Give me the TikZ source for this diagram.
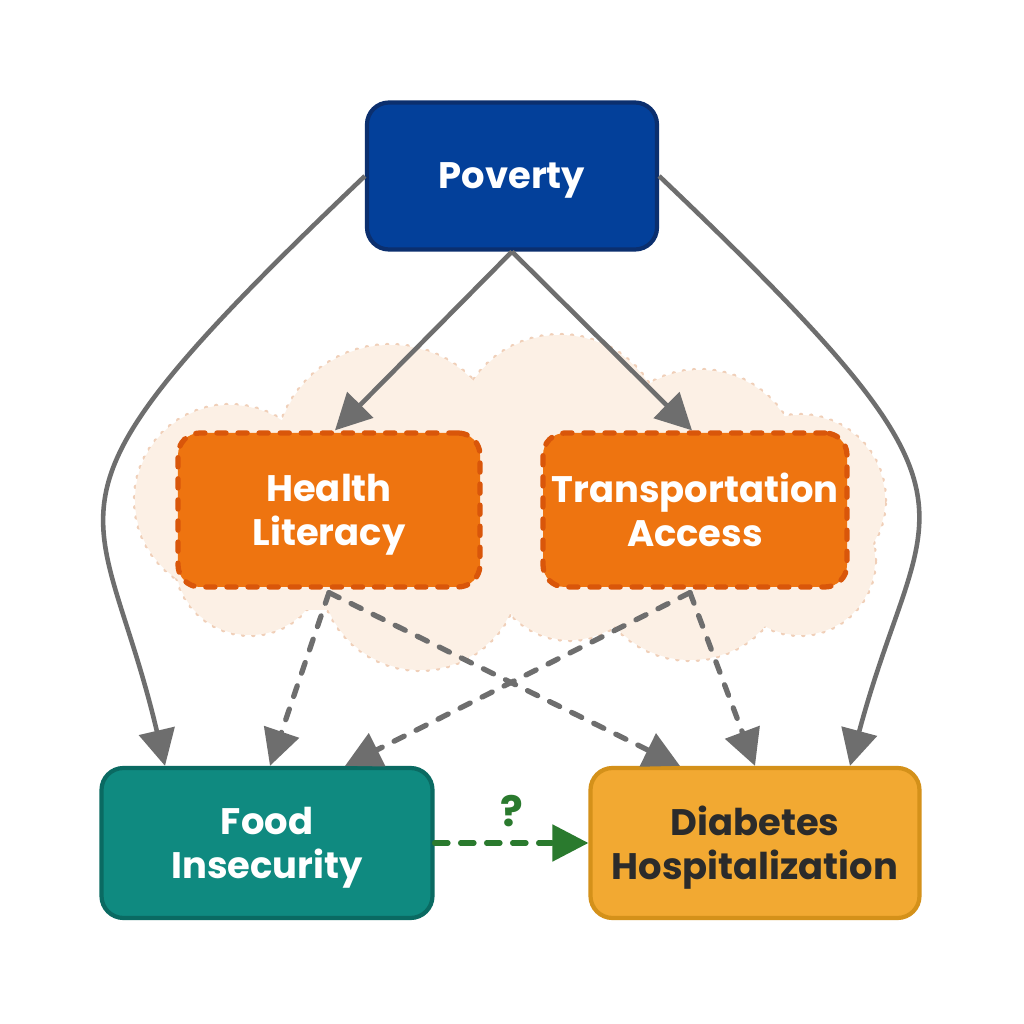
\documentclass[tikz,border=0pt]{standalone}
\usepackage{fontspec}
\setmainfont{Poppins}
\usetikzlibrary{arrows.meta}

\definecolor{povblue}{HTML}{03409A}
\definecolor{povedge}{HTML}{0B2F6E}
\definecolor{medorange}{HTML}{EE7410}
\definecolor{mededge}{HTML}{D9560A}
\definecolor{foodteal}{HTML}{0F8A80}
\definecolor{foodedge}{HTML}{0A6A62}
\definecolor{diabyellow}{HTML}{F2A932}
\definecolor{diabedge}{HTML}{D4911A}
\definecolor{darktext}{HTML}{2B2B2B}
\definecolor{cloudfill}{HTML}{FCF0E5}
\definecolor{cloudedge}{HTML}{F0CFB8}
\definecolor{arrowgray}{HTML}{6E6E6E}
\definecolor{qgreen}{HTML}{2A7A2E}

\begin{document}
\begin{tikzpicture}[
    box/.style={rounded corners=0.22cm, line width=1.2pt, align=center, inner sep=0pt, text depth=0pt,
                font=\bfseries\fontsize{10.5}{12.4}\selectfont},
    mediator/.style={box, fill=medorange, draw=mededge, line width=1.5pt, line cap=round,
                dash pattern=on 2.6pt off 3.4pt, text=white, minimum width=3.02cm, minimum height=1.54cm},
    link/.style={draw=arrowgray, line width=1.3pt, -{Triangle[length=0.36cm,width=0.36cm]}},
    maybe/.style={link, line width=1.5pt, line cap=round, dash pattern=on 3.2pt off 3.8pt},
]
    \fill[white] (0,0) rectangle (10.24,10.24);
    \useasboundingbox (0,0) rectangle (10.24,10.24);

    % cloud behind the mediators
    \foreach \cx/\cy/\r in {2.30/5.24/0.95, 3.90/5.64/1.15, 5.60/5.84/1.05, 7.00/5.54/1.00,
                            8.00/5.24/0.85, 4.20/4.54/1.00, 5.70/4.64/0.80, 6.90/4.64/1.00,
                            8.00/4.64/0.75, 2.50/4.64/0.75}
        \draw[cloudedge, line width=1.3pt, line cap=round, dash pattern=on 0pt off 2.9pt] (\cx,\cy) circle (\r);
    \foreach \cx/\cy/\r in {2.30/5.24/0.95, 3.90/5.64/1.15, 5.60/5.84/1.05, 7.00/5.54/1.00,
                            8.00/5.24/0.85, 4.20/4.54/1.00, 5.70/4.64/0.80, 6.90/4.64/1.00,
                            8.00/4.64/0.75, 2.50/4.64/0.75}
        \fill[cloudfill] (\cx,\cy) circle (\r);
    \fill[cloudfill] (2.0,4.14) rectangle (8.3,5.94);

    \node[box, fill=povblue, draw=povedge, text=white, minimum width=2.90cm, minimum height=1.47cm] (pov) at (5.12,8.48) {Poverty};
    \node[mediator] (hl) at (3.29,5.14) {Health\\Literacy};
    \node[mediator, minimum width=3.04cm] (ta) at (6.95,5.14) {Transportation\\Access};
    \node[box, fill=foodteal, draw=foodedge, text=white, minimum width=3.31cm, minimum height=1.50cm] (fi) at (2.67,1.81) {Food\\Insecurity};
    \node[box, fill=diabyellow, draw=diabedge, text=darktext, minimum width=3.29cm, minimum height=1.50cm] (dh) at (7.55,1.81) {Diabetes\\Hospitalization};

    % direct paths from poverty
    \draw[link] (pov.south) -- ([xshift=0.06cm]hl.north);
    \draw[link] (pov.south) -- ([xshift=-0.03cm]ta.north);
    \draw[link] (pov.west) .. controls (0.10,5.10) and (1.00,5.35) .. ([xshift=-1.02cm]fi.north);
    \draw[link] (pov.east) .. controls (10.14,5.10) and (9.24,5.35) .. ([xshift=0.95cm]dh.north);

    % mediated paths
    \draw[maybe] ([yshift=-0.03cm]hl.south) -- ([xshift=0.03cm]fi.north);
    \draw[maybe] ([yshift=-0.03cm]hl.south) -- ([xshift=-0.75cm]dh.north);
    \draw[maybe] ([xshift=-0.05cm,yshift=-0.03cm]ta.south) -- ([xshift=0.78cm]fi.north);
    \draw[maybe] ([xshift=-0.05cm,yshift=-0.03cm]ta.south) -- (dh.north);

    \draw[maybe, draw=qgreen, dash pattern=on 3.8pt off 3.6pt] (fi.east) -- node[above=0.5pt, text=qgreen, font=\bfseries\fontsize{12}{13}\selectfont] (q) {?} (dh.west);
\end{tikzpicture}
\end{document}
